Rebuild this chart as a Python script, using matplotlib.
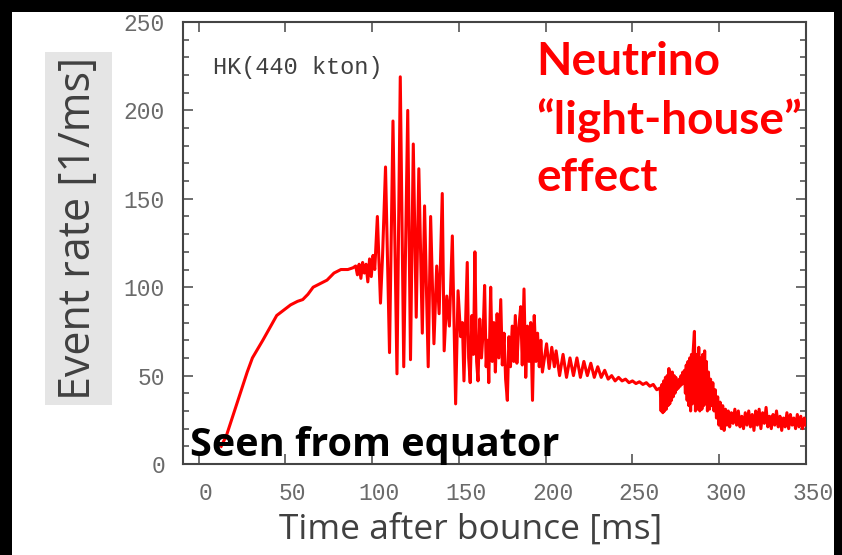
import matplotlib
matplotlib.use("Agg")
import matplotlib.pyplot as plt
from matplotlib.patches import Rectangle
from matplotlib.ticker import MultipleLocator
from matplotlib.transforms import ScaledTranslation

# 数据：事件率（时间 ms, 事件率 1/ms）
time_ms = [
    13, 16, 20, 24, 28, 31, 34, 37, 41, 45, 49, 53, 57, 60, 63, 66, 70, 74, 78, 82, 86, 89,
    90.5, 91.5, 92.5, 93.5, 94.5, 95.5, 96.5, 97.5, 98.5, 99.5, 100.5, 101.5, 103, 104.8,
    106, 107.7, 110, 112, 114.3, 116.2, 118.2, 120.5, 122.1, 123.7, 125.4, 126.9, 128.9,
    130.2, 132.3, 133.7, 135.6, 137.2, 138.6, 140.4, 141.5, 143, 144.5, 146.2, 148.1,
    149.5, 151, 152, 152.9, 154, 154.8, 155.6, 156.5, 157.5, 158.4, 159.2, 160.2, 161,
    162, 163, 164, 164.8, 165.7, 166.5, 167.2, 168.3, 169.2, 170.1, 171, 172, 173, 174.1,
    175, 176, 176.9, 177.9, 178.8, 179.7, 180.7, 181.6, 182.5, 183.4, 184.4, 185.6, 186.5,
    187.5, 188.5, 189.5, 190.4, 191.4, 192.4, 193.4, 194.4, 195.3, 196.3, 197.2, 198.1,
    199, 200.5, 202, 203.5, 205, 206, 208, 210, 212, 214, 216, 218, 220, 222, 224, 226,
    228, 230, 232, 234, 236, 238, 240, 242, 244, 246, 248, 250, 252, 254, 256, 258, 260,
    262, 264, 266,
    266.5, 267, 267.5, 268, 268.5, 269, 269.5, 270, 270.5, 271, 271.5, 272, 272.5, 273,
    273.5, 274, 274.5, 275, 275.5, 276, 276.5, 277, 277.5, 278, 278.5, 279, 279.5, 280,
    280.5, 281, 281.5, 282, 282.5, 283, 283.5, 284, 284.5, 285, 285.7, 286.3, 287, 287.5,
    288.2, 288.8, 289.5, 290, 290.5, 291, 291.6, 292.1, 292.6, 293.2, 293.8, 294.4, 295,
    295.6, 296.3, 297, 297.7, 298.4, 299.1, 299.8, 300.5, 301.2, 302, 302.8, 303.6, 304.4,
    305.2, 306, 307, 308, 309, 310, 311, 312, 313, 314, 315, 316, 317, 318, 319, 320, 321,
    322, 323, 324, 325, 326, 327, 328, 329, 330, 331, 332, 333, 334, 335, 336, 337, 338,
    339, 340, 341, 342, 343, 344, 345, 346, 347, 348, 349, 350,
]
event_rate = [
    10, 16, 28, 40, 52, 60, 65, 70, 77, 84, 87, 90, 92, 93, 96, 100, 102, 104, 108, 110, 110, 111,
    112, 107, 113, 105, 114, 108, 113, 103, 116, 106, 118, 110, 140, 91,
    118, 168, 63, 194, 51, 219, 55, 200, 59, 181, 83, 167, 74,
    146, 55, 140, 68, 112, 85, 153, 64, 95, 78, 129, 34,
    98, 72, 80, 47, 85, 114, 60, 46, 84, 62, 120, 58, 47,
    82, 60, 76, 101, 55, 70, 46, 100, 58, 80, 52, 85, 60, 93,
    56, 74, 48, 36, 72, 55, 78, 58, 84, 57, 76, 89, 56,
    99, 49, 78, 58, 80, 36, 84, 58, 74, 55, 70, 52,
    58, 68, 54, 66, 55, 64, 50, 62, 49, 60, 50, 60, 49, 58, 50, 57,
    49, 55, 49, 53, 48, 50, 47, 49, 47, 48, 46, 47, 45.5, 46.5, 45, 46, 44,
    45, 42, 43,
    30, 45, 29, 47, 30, 49, 31, 50, 33, 54, 34, 52, 36, 52,
    38, 50, 40, 49, 42, 47, 43, 48, 44, 50, 45, 52, 46, 53,
    40, 56, 36, 58, 33, 60, 30, 62, 34, 64, 75, 30, 62, 31,
    66, 30, 60, 31, 62, 33, 64, 34, 58, 30, 52, 31, 48,
    33, 46, 30, 42, 26, 38, 22, 35, 20, 33, 19, 31, 22,
    30, 21, 29, 23, 31, 22, 30, 21, 27, 20, 29, 22, 30, 21, 28, 19, 30,
    22, 31, 20, 29, 23, 32, 21, 27, 20, 28, 22, 30, 21, 27, 19, 26, 21,
    29, 20, 28, 22, 26, 20, 28, 21, 27, 20, 26, 22,
]

x_ticks = [0, 50, 100, 150, 200, 250, 300, 350]
y_ticks = [0, 50, 100, 150, 200, 250]

W, H = 842, 555
fig = plt.figure(figsize=(W / 100, H / 100), dpi=100)
fig.patch.set_facecolor("black")
# 白色画布区域（外圈是黑边）
fig.add_artist(Rectangle((12 / W, 0), (834 - 12) / W, (H - 12) / H,
                         transform=fig.transFigure, facecolor="white", edgecolor="none", zorder=0))

ax = fig.add_axes([183 / W, 1 - 464 / H, (806 - 183) / W, (464 - 22) / H])
ax.plot(time_ms, event_rate, color="#ff0000", lw=2.2, zorder=3)

ax.set_xlim(-9, 350)
ax.set_ylim(0, 250)
ax.set_xticks(x_ticks)
ax.set_yticks(y_ticks)
ax.yaxis.set_minor_locator(MultipleLocator(10))
ax.tick_params(which="both", direction="in", top=True, right=True, color="#555555", width=1.2)
ax.tick_params(which="major", length=7, labelsize=16.5, labelcolor="#6a6a6a")
ax.tick_params(axis="x", which="major", pad=13)
ax.tick_params(axis="y", which="major", pad=13)
ax.tick_params(which="minor", length=4)
ax.tick_params(axis="x", which="minor", top=False, bottom=False)
for lab in ax.get_xticklabels() + ax.get_yticklabels():
    lab.set_family("Liberation Mono")
# x 轴刻度标签稍微右移
offset = ScaledTranslation(7 / 100, 0, fig.dpi_scale_trans)
for lab in ax.get_xticklabels():
    lab.set_transform(lab.get_transform() + offset)
for s in ax.spines.values():
    s.set_color("#444444")
    s.set_linewidth(1.5)

ax.text(8.4, 224, "HK(440 kton)", family="Liberation Mono", fontsize=17,
        color="#404040", va="center", ha="left")

# y 轴标签（灰色底框）
fig.add_artist(Rectangle((45 / W, 1 - 405 / H), 67 / W, 353 / H,
                         transform=fig.transFigure, facecolor="#e5e5e5", edgecolor="none", zorder=1))
fig.text(79 / W, 1 - 228 / H, "Event rate [1/ms]", rotation=90, ha="center", va="center",
         fontsize=31, color="#404040", family="Open Sans", zorder=2)

fig.text(471 / W, 1 - 530 / H, "Time after bounce [ms]", ha="center", va="center",
         fontsize=25.5, color="#404040", family="Open Sans")

fig.text(190 / W, 1 - 456 / H, "Seen from equator", ha="left", va="baseline",
         fontsize=28.5, weight="bold", color="black", family="Open Sans", zorder=5)

fig.text(536 / W, 1 - 41 / H, "Neutrino\n“light-house”\neffect", ha="left", va="top",
         fontsize=33, weight="bold", color="#ff0000", family="Lato", linespacing=1.42, zorder=5)

fig.savefig("out.png", dpi=100, facecolor=fig.get_facecolor())
